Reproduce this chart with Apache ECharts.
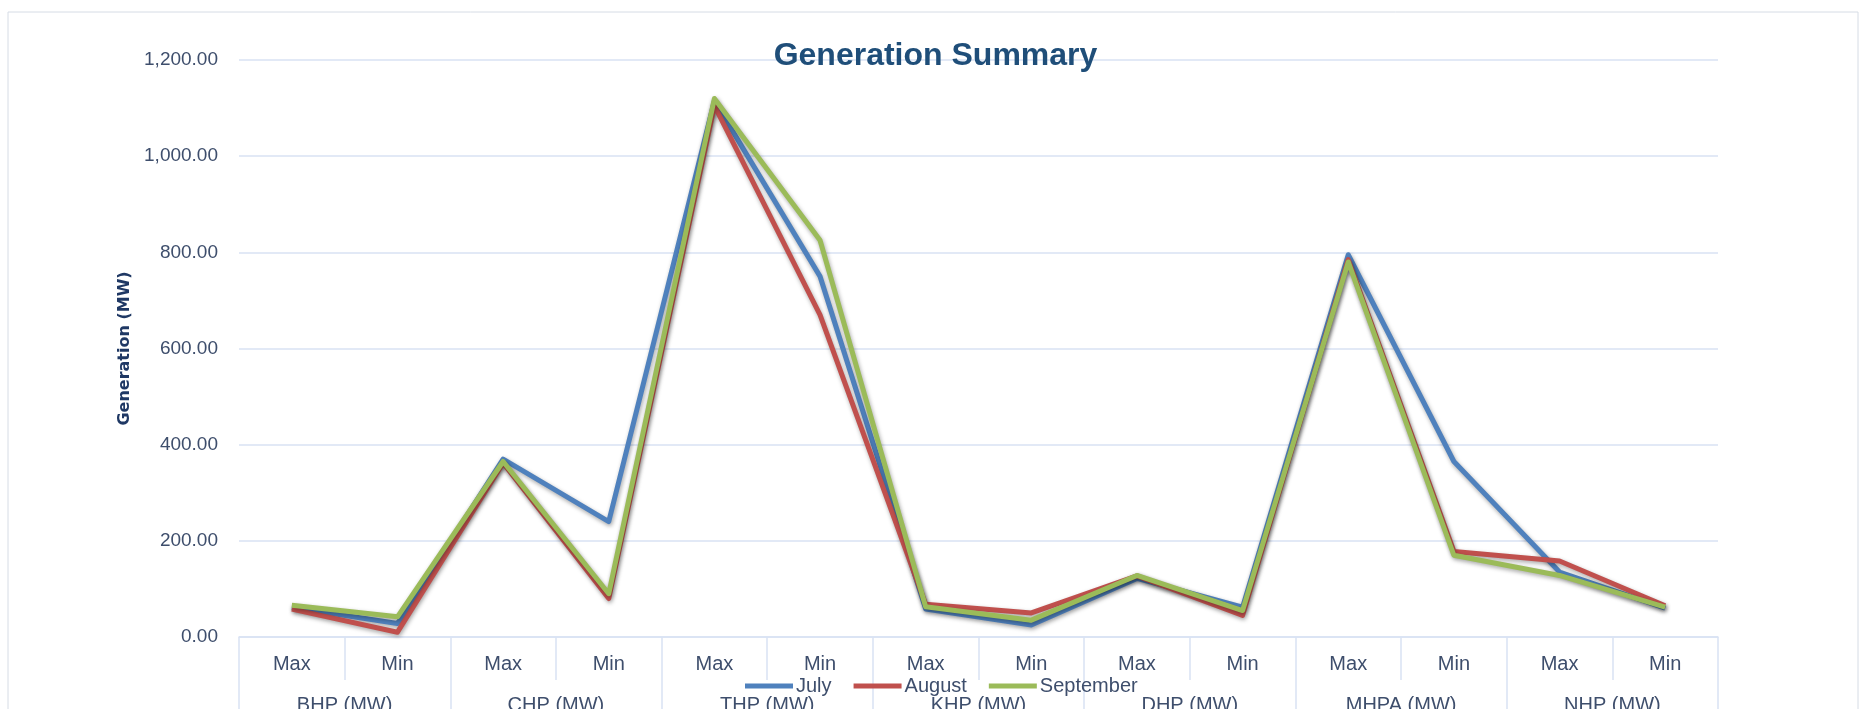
<!DOCTYPE html>
<html>
<head>
<meta charset="utf-8">
<script src="https://cdn.jsdelivr.net/npm/echarts@6/dist/echarts.min.js"></script>
<style>
  html, body { margin: 0; padding: 0; background: #fff; }
  #main { width: 1871px; height: 709px; }
</style>
</head>
<body>
<div id="main"></div>
<script>
// categories (two-level axis like the Excel chart)
var categories = ['Max', 'Min', 'Max', 'Min', 'Max', 'Min', 'Max', 'Min', 'Max', 'Min', 'Max', 'Min', 'Max', 'Min'];
var groups = ['BHP (MW)', 'CHP (MW)', 'THP (MW)', 'KHP (MW)', 'DHP (MW)', 'MHPA (MW)', 'NHP (MW)'];

// generation values
var july = [62, 28, 370, 240, 1115, 750, 58, 25, 122, 62, 795, 365, 135, 60];
var august = [58, 10, 362, 80, 1105, 670, 68, 50, 127, 45, 785, 178, 158, 65];
var september = [66, 42, 365, 90, 1120, 825, 63, 35, 128, 55, 780, 170, 128, 62];

var labelColor = '#3E4E6C';
var gridColor = '#D9E2F3';

var chart = echarts.init(document.getElementById('main'));

var lineShadow = {
  shadowColor: 'rgba(0,0,0,0.35)',
  shadowBlur: 4,
  shadowOffsetX: 1,
  shadowOffsetY: 2
};

function makeSeries(name, data, color) {
  return {
    name: name,
    type: 'line',
    data: data,
    symbol: 'none',
    xAxisIndex: 0,
    itemStyle: { color: color },
    lineStyle: Object.assign({ width: 5, color: color, join: 'round' }, lineShadow)
  };
}

var option = {
  animation: false,
  backgroundColor: '#fff',
  graphic: [
    {
      type: 'rect',
      shape: { x: 8, y: 12, width: 1850, height: 720 },
      style: { fill: 'none', stroke: '#D6DCE5', lineWidth: 1 },
      silent: true
    }
  ],
  title: {
    text: 'Generation Summary',
    left: 'center',
    top: 35,
    textStyle: {
      fontFamily: 'Liberation Sans',
      fontSize: 32,
      fontWeight: 'bold',
      color: '#1F4E79'
    }
  },
  legend: {
    data: ['July', 'August', 'September'],
    left: 740,
    top: 671,
    icon: 'rect',
    itemWidth: 48,
    itemHeight: 5,
    itemGap: 22,
    textStyle: {
      fontFamily: 'Liberation Sans',
      fontSize: 20,
      color: labelColor,
      padding: [0, 0, 0, -2]
    }
  },
  grid: {
    left: 239,
    right: 153,
    top: 60,
    bottom: 72,
    outerBoundsMode: 'none'
  },
  xAxis: [
    {
      type: 'category',
      data: categories,
      boundaryGap: true,
      axisLine: { show: true, lineStyle: { color: gridColor, width: 1.5 } },
      axisTick: { show: true, length: 43, interval: 0, lineStyle: { color: gridColor, width: 1.5 } },
      axisLabel: {
        interval: 0,
        margin: 17,
        fontFamily: 'Liberation Sans',
        fontSize: 20,
        color: labelColor
      },
      splitLine: { show: false }
    },
    {
      type: 'category',
      data: groups,
      position: 'bottom',
      boundaryGap: true,
      axisLine: { show: false },
      axisTick: { show: true, length: 90, interval: 0, lineStyle: { color: gridColor, width: 1.5 } },
      axisLabel: {
        interval: 0,
        margin: 58,
        fontFamily: 'Liberation Sans',
        fontSize: 20,
        color: labelColor
      },
      splitLine: { show: false }
    }
  ],
  yAxis: {
    type: 'value',
    min: 0,
    max: 1200,
    interval: 200,
    name: 'Generation (MW)',
    nameLocation: 'middle',
    nameGap: 104,
    nameTextStyle: {
      fontFamily: 'DejaVu Sans',
      fontSize: 16,
      fontWeight: 'bold',
      color: '#1F3864'
    },
    axisLine: { show: false },
    axisTick: { show: false },
    axisLabel: {
      margin: 21,
      fontFamily: 'Liberation Sans',
      fontSize: 19,
      color: labelColor,
      formatter: function (v) {
        return v.toLocaleString('en-US', { minimumFractionDigits: 2, maximumFractionDigits: 2 });
      }
    },
    splitLine: { show: true, lineStyle: { color: gridColor, width: 1.5 } }
  },
  series: [
    makeSeries('July', july, '#4F81BD'),
    makeSeries('August', august, '#C0504D'),
    makeSeries('September', september, '#9BBB59')
  ]
};

chart.setOption(option);
</script>
</body>
</html>
